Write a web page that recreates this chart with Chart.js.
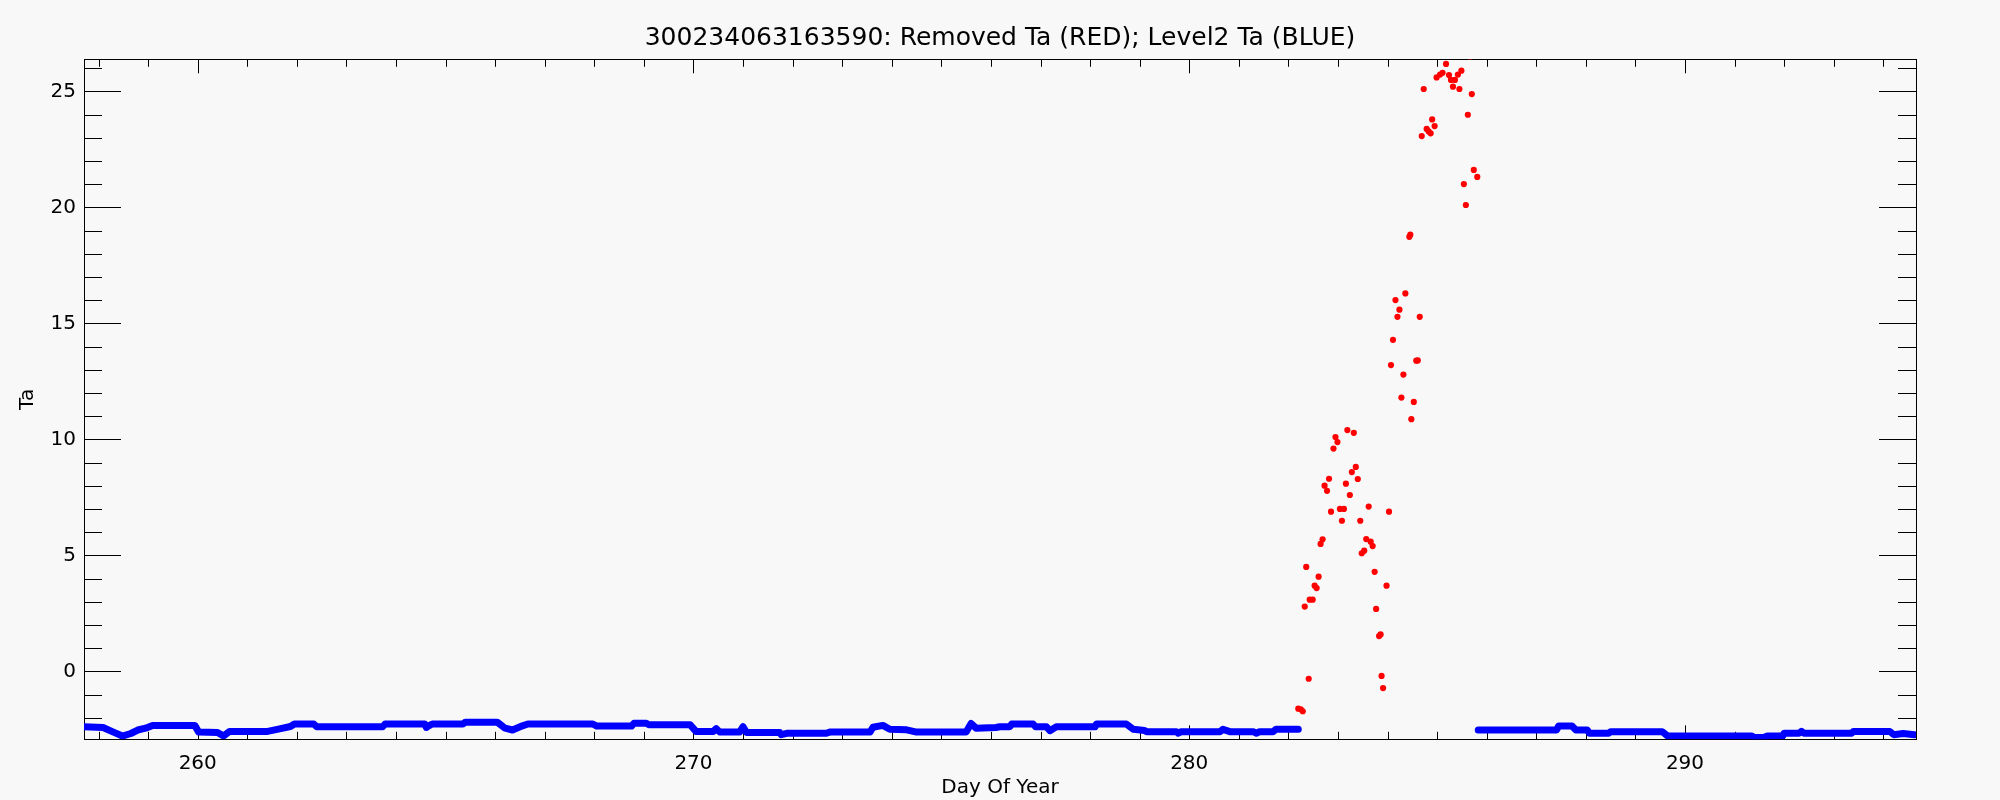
<!DOCTYPE html>
<html>
<head>
<meta charset="utf-8">
<title>300234063163590 Ta</title>
<script src="https://cdn.jsdelivr.net/npm/chart.js@4/dist/chart.umd.min.js"></script>
<style>
  html, body { margin: 0; padding: 0; background: #f8f8f8; }
  #wrap { width: 2000px; height: 800px; }
</style>
</head>
<body>
<div id="wrap"><canvas id="myChart" width="2000" height="800"></canvas></div>
<script>
// Level2 Ta (blue), null marks the gap in the record
const blueDays = [
  257.70, 258.09, 258.30, 258.48, 258.65, 258.79, 258.95, 259.09, 259.94, 260.02,
  260.40, 260.52, 260.64, 261.41, 261.65, 261.87, 261.95, 262.34, 262.40, 263.73,
  263.78, 264.58, 264.61, 264.66, 264.73, 265.35, 265.40, 266.04, 266.20, 266.35,
  266.55, 266.66, 267.97, 268.05, 268.11, 268.75, 268.80, 269.05, 269.10, 269.93,
  270.05, 270.40, 270.46, 270.53, 270.93, 271.00, 271.07, 271.74, 271.77, 271.88,
  272.68, 272.75, 273.56, 273.62, 273.82, 273.96, 274.30, 274.50, 275.50, 275.60,
  275.70, 276.10, 276.18, 276.38, 276.42, 276.85, 276.90, 277.12, 277.19, 277.32,
  278.10, 278.13, 278.73, 278.87, 279.10, 279.14, 279.74, 279.78, 279.84, 280.62,
  280.68, 280.82, 281.29, 281.36, 281.42, 281.69, 281.75, 282.20, 284.00, 285.83,
  287.41, 287.45, 287.72, 287.80, 288.03, 288.07, 288.46, 288.50, 289.54, 289.65,
  291.35, 291.40, 291.58, 291.66, 291.97, 292.00, 292.30, 292.35, 292.40, 293.36,
  293.40, 294.13, 294.21, 294.40, 294.63
];
const blueTa = [
  -2.39, -2.42, -2.62, -2.79, -2.68, -2.53, -2.45, -2.33, -2.33, -2.62,
  -2.64, -2.79, -2.59, -2.59, -2.48, -2.38, -2.27, -2.27, -2.39, -2.39,
  -2.27, -2.27, -2.42, -2.35, -2.27, -2.27, -2.19, -2.19, -2.45, -2.53,
  -2.35, -2.27, -2.27, -2.36, -2.36, -2.36, -2.24, -2.24, -2.30, -2.30,
  -2.59, -2.59, -2.47, -2.62, -2.62, -2.39, -2.64, -2.64, -2.73, -2.67,
  -2.67, -2.62, -2.62, -2.41, -2.33, -2.50, -2.52, -2.62, -2.62, -2.25,
  -2.45, -2.42, -2.39, -2.39, -2.27, -2.27, -2.39, -2.39, -2.56, -2.39,
  -2.39, -2.27, -2.27, -2.50, -2.55, -2.60, -2.60, -2.67, -2.60, -2.60,
  -2.50, -2.60, -2.60, -2.67, -2.60, -2.60, -2.50, -2.50, null, -2.53,
  -2.53, -2.36, -2.36, -2.53, -2.53, -2.67, -2.67, -2.60, -2.60, -2.79,
  -2.79, -2.85, -2.85, -2.79, -2.79, -2.67, -2.67, -2.59, -2.67, -2.67,
  -2.59, -2.59, -2.73, -2.68, -2.73
];

// Removed Ta (red)
const redDays = [
  285.66, 285.18, 284.99, 285.06, 285.11, 285.24, 285.28, 285.36, 285.42, 285.49,
  285.32, 285.45, 284.73, 285.70, 285.62, 284.90, 284.95, 284.79, 284.83, 284.87,
  284.69, 285.74, 285.81, 285.54, 285.58, 284.44, 284.46, 284.36, 284.16, 284.24,
  284.20, 284.65, 284.11, 284.58, 284.61, 284.07, 284.32, 284.28, 284.53, 284.48,
  283.19, 283.32, 282.95, 282.99, 282.91, 283.36, 283.28, 283.40, 282.82, 282.73,
  282.78, 283.16, 283.24, 283.62, 284.03, 282.86, 283.04, 283.12, 283.08, 283.45,
  282.69, 282.65, 283.57, 283.66, 283.70, 283.53, 283.48, 282.36, 283.74, 282.61,
  282.53, 282.57, 283.98, 282.43, 282.49, 282.33, 283.77, 283.83, 283.86, 282.41,
  283.88, 283.91, 282.20, 282.25, 282.29
];
const redTa = [
  26.50, 26.18, 25.60, 25.72, 25.80, 25.70, 25.49, 25.49, 25.72, 25.89,
  25.20, 25.10, 25.10, 24.88, 23.99, 23.79, 23.50, 23.38, 23.27, 23.19,
  23.07, 21.61, 21.31, 21.00, 20.10, 18.73, 18.82, 16.29, 16.00, 15.59,
  15.28, 15.28, 14.29, 13.39, 13.40, 13.20, 12.79, 11.80, 11.61, 10.87,
  10.40, 10.28, 10.10, 9.88, 9.60, 8.81, 8.59, 8.29, 8.30, 8.00,
  7.78, 8.09, 7.60, 7.10, 6.88, 6.88, 7.00, 7.00, 6.49, 6.49,
  5.69, 5.49, 5.70, 5.59, 5.40, 5.20, 5.09, 4.50, 4.29, 4.08,
  3.69, 3.59, 3.69, 3.09, 3.09, 2.79, 2.69, 1.52, 1.59, -0.32,
  -0.20, -0.72, -1.61, -1.64, -1.72
];

const xTicks = [260, 270, 280, 290];
const yTicks = [0, 5, 10, 15, 20, 25];
const xRange = [257.706, 294.66];
const yRange = [-2.93, 26.38];

const FONT = 'DejaVu Sans';

// IDL style frame: ticks pointing inwards on all four sides
const frameTicks = {
  id: 'frameTicks',
  beforeDatasetsDraw(chart) {
    const { ctx, chartArea: a, scales: { x, y } } = chart;
    ctx.save();
    ctx.strokeStyle = '#000';
    ctx.lineWidth = 1;
    ctx.beginPath();
    for (let d = Math.ceil(x.min); d <= x.max; d++) {
      const px = Math.round(x.getPixelForValue(d)) + 0.5;
      const len = xTicks.includes(d) ? 14 : 7.5;
      ctx.moveTo(px, a.bottom); ctx.lineTo(px, a.bottom - len);
      ctx.moveTo(px, a.top); ctx.lineTo(px, a.top + len);
    }
    for (let v = Math.ceil(y.min); v <= y.max; v++) {
      const py = Math.round(y.getPixelForValue(v)) + 0.5;
      const len = yTicks.includes(v) ? 37 : 18;
      ctx.moveTo(a.left, py); ctx.lineTo(a.left + len, py);
      ctx.moveTo(a.right, py); ctx.lineTo(a.right - len, py);
    }
    ctx.stroke();
    ctx.strokeRect(Math.round(a.left) + 0.5, Math.round(a.top) + 0.5,
      Math.round(a.right - a.left), Math.round(a.bottom - a.top));
    ctx.restore();
  }
};

const blueData = blueDays.map((d, i) => ({ x: d, y: blueTa[i] }));
const redData = redDays.map((d, i) => ({ x: d, y: redTa[i] }));

const ctx = document.getElementById('myChart').getContext('2d');
new Chart(ctx, {
  type: 'scatter',
  data: {
    datasets: [
      {
        label: 'Level2 Ta',
        data: blueData,
        showLine: true,
        spanGaps: false,
        borderColor: '#0000ff',
        backgroundColor: '#0000ff',
        borderWidth: 7,
        borderCapStyle: 'round',
        borderJoinStyle: 'round',
        pointRadius: 0
      },
      {
        label: 'Removed Ta',
        data: redData,
        backgroundColor: '#ff0000',
        borderWidth: 0,
        pointRadius: 3.1
      }
    ]
  },
  options: {
    responsive: false,
    animation: false,
    events: [],
    layout: { padding: 0, autoPadding: false },
    plugins: {
      legend: { display: false },
      tooltip: { enabled: false },
      title: {
        display: true,
        text: '300234063163590: Removed Ta (RED); Level2 Ta (BLUE)',
        color: '#000',
        font: { family: FONT, size: 25, weight: 'normal', lineHeight: 1.2 },
        padding: { top: 23, bottom: 6.3 }
      }
    },
    scales: {
      x: {
        type: 'linear',
        min: xRange[0],
        max: xRange[1],
        afterBuildTicks: s => { s.ticks = xTicks.map(v => ({ value: v })); },
        afterFit: s => { s.height = 60.7; },
        grid: { display: false, drawTicks: false },
        border: { display: false },
        ticks: { color: '#000', padding: 12, maxRotation: 0, font: { family: FONT, size: 20 } },
        title: {
          display: true,
          text: 'Day Of Year',
          color: '#000',
          padding: 0,
          font: { family: FONT, size: 20 }
        }
      },
      y: {
        type: 'linear',
        min: yRange[0],
        max: yRange[1],
        afterBuildTicks: s => { s.ticks = yTicks.map(v => ({ value: v })); },
        afterFit: s => { s.width = 84; },
        grid: { display: false, drawTicks: false },
        border: { display: false },
        ticks: { color: '#000', padding: 8, font: { family: FONT, size: 20 } },
        title: {
          display: true,
          text: 'Ta',
          color: '#000',
          padding: { top: 16, bottom: 0 },
          font: { family: FONT, size: 20 }
        }
      },
      // empty right-hand strip so the title centres on the page as in the original
      yRight: {
        type: 'linear',
        position: 'right',
        min: yRange[0],
        max: yRange[1],
        afterFit: s => { s.width = 84; },
        grid: { display: false, drawTicks: false },
        border: { display: false },
        ticks: { display: false }
      }
    }
  },
  plugins: [frameTicks]
});
</script>
</body>
</html>
